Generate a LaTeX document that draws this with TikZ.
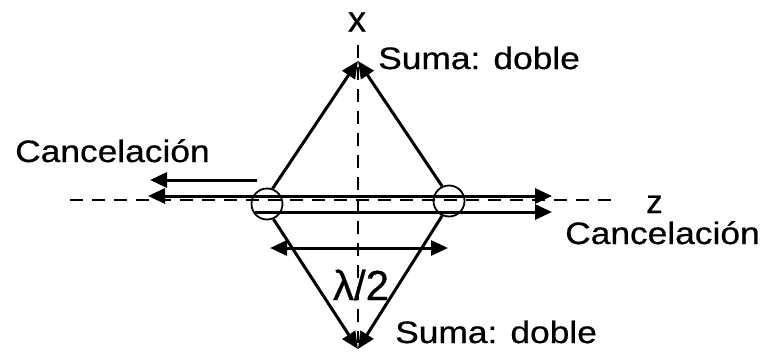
\documentclass[tikz,border=0pt]{standalone}
\usepackage{fontspec}
\setmainfont{Liberation Sans}[FakeBold=0.6]
\usetikzlibrary{arrows.meta}

\begin{document}
\begin{tikzpicture}[x=1pt, y=-1pt,
    wave/.style={line width=3pt, -{Triangle[length=17pt, width=15pt]}},
    axis/.style={line width=2.5pt, dash pattern=on 13pt off 9pt},
    source/.style={circle, draw, line width=1.8pt, minimum width=30pt, minimum height=31pt, inner sep=0pt},
    lbl/.style={font=\fontsize{31}{36}\selectfont, xscale=1.14, inner sep=0pt, anchor=base west},
    axlbl/.style={font=\fontsize{36}{42}\selectfont, inner sep=0pt}
]
\useasboundingbox (0,0) rectangle (770,351);

% Axes
\draw[axis] (70,200) -- (612,200);
\draw[axis] (358,45) -- (358,343);
\node[axlbl] (xlab) at (357,22) {x};
\node[axlbl, font=\fontsize{33}{40}\selectfont, anchor=base west] (zlab) at (646,213) {z};

% Sources and meeting points
\node[source] (L) at (267,204) {};
\node[source] (R) at (449,201) {};
\coordinate (top) at (358,61);
\coordinate (bot) at (358,349);

% Diamond
\draw[wave] (L.70) -- (top);
\draw[wave] (R.115) -- (top);
\draw[wave] (L.-67) -- (bot);
\draw[wave] (R.-115) -- (bot);

% Waves along z
\coordinate (lsrc) at (257,180);
\coordinate (lend) at (150,180);
\coordinate (rsrc) at (449,196);
\coordinate (rend) at (148,196);
\coordinate (rfar) at (552,196);
\coordinate (lsrc2) at (255,212);
\coordinate (lfar) at (552,212);
\draw[wave] (lsrc) -- (lend);
\draw[wave] (rsrc) -- (rend);
\draw[wave] (rsrc) -- (rfar);
\draw[wave] (lsrc2) -- (lfar);

% Half wavelength
\coordinate (ha) at (270,248);
\coordinate (hb) at (448,248);
\draw[wave, {Triangle[length=17pt, width=15pt]}-{Triangle[length=17pt, width=15pt]}] (ha) -- (hb);
\node[font=\fontsize{42}{48}\selectfont, inner sep=0pt] (half) at (361,285) {λ/2};

% Labels
\node[lbl] (sumtop) at (378,69) {Suma: doble};
\node[lbl] (sumbot) at (395,343) {Suma: doble};
\node[lbl] (canl) at (15,162) {Cancelación};
\node[lbl] (canr) at (565,244) {Cancelación};

\end{tikzpicture}
\end{document}
